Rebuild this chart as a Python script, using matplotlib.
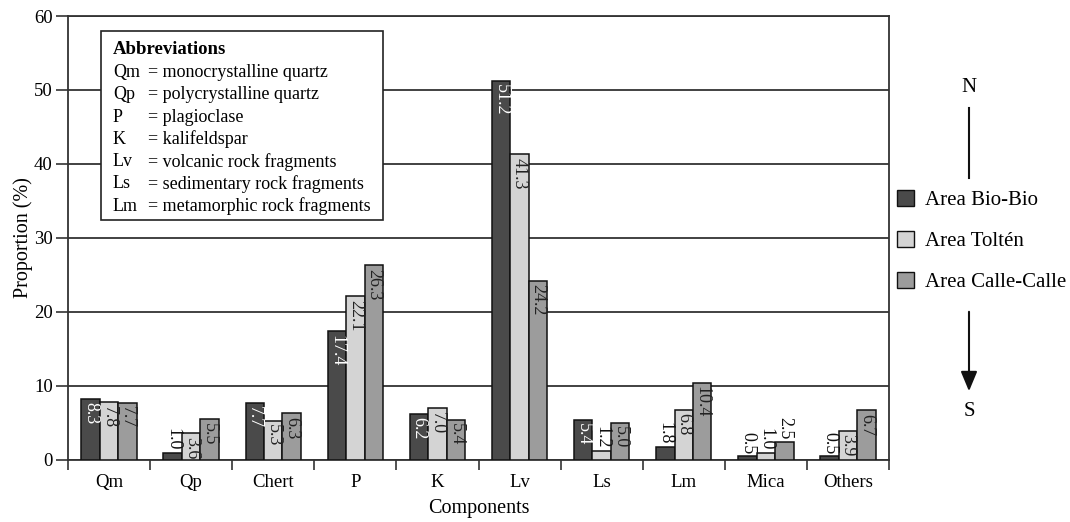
import numpy as np
import matplotlib
matplotlib.use("Agg")
import matplotlib.pyplot as plt
from matplotlib.patches import Patch, FancyArrowPatch
from matplotlib.lines import Line2D

categories = ["Qm", "Qp", "Chert", "P", "K", "Lv", "Ls", "Lm", "Mica", "Others"]
series_names = ["Area Bio-Bio", "Area Toltén", "Area Calle-Calle"]
bio_bio = [8.3, 1.0, 7.7, 17.4, 6.2, 51.2, 5.4, 1.8, 0.5, 0.5]
tolten = [7.8, 3.6, 5.3, 22.1, 7.0, 41.3, 1.2, 6.8, 1.0, 3.9]
calle_calle = [7.7, 5.5, 6.3, 26.3, 5.4, 24.2, 5.0, 10.4, 2.5, 6.7]
yticks = [0, 10, 20, 30, 40, 50, 60]
abbrevs = [("Qm", "monocrystalline quartz"), ("Qp", "polycrystalline quartz"),
           ("P", "plagioclase"), ("K", "kalifeldspar"),
           ("Lv", "volcanic rock fragments"), ("Ls", "sedimentary rock fragments"),
           ("Lm", "metamorphic rock fragments")]

colors = ["#4a4a4a", "#d4d4d4", "#9c9c9c"]
text_colors = ["white", "#222222", "#222222"]

plt.rcParams['font.family'] = ['Liberation Serif', 'DejaVu Serif']
W, H = 1070, 522
fig = plt.figure(figsize=(W / 100, H / 100), dpi=100)
ax = fig.add_axes([68 / W, 1 - 460 / H, (889 - 68) / W, (460 - 16) / H])

x = np.arange(len(categories))
bw = 0.225
data = [bio_bio, tolten, calle_calle]
for i, vals in enumerate(data):
    xs = x + (i - 1) * bw
    ax.bar(xs, vals, width=bw, color=colors[i], edgecolor="#111111", linewidth=1.1, zorder=3)
    for xx, v in zip(xs, vals):
        if v >= 3.5:
            ax.text(xx, v - 0.45, f"{v:.1f}", rotation=-90, ha="center", va="top",
                    color=text_colors[i], fontsize=13, zorder=4)
        else:
            ax.text(xx, v + 0.3, f"{v:.1f}", rotation=-90, ha="center", va="bottom",
                    color="#111111", fontsize=13, zorder=4)

ax.set_xlim(-0.5, len(categories) - 0.5)
ax.set_ylim(0, 60)
ax.set_yticks(yticks)
ax.yaxis.grid(True, color="#333333", linewidth=1.3, zorder=1)
ax.set_axisbelow(True)
ax.set_xticks(x)
ax.set_xticklabels(categories, fontsize=13.5)
ax.set_xticks(np.arange(-0.5, len(categories), 1.0), minor=True)
ax.tick_params(axis="x", which="major", length=0, pad=10)
ax.tick_params(axis="x", which="minor", length=7, width=1.2, color="#333333", direction="out")
ax.tick_params(axis="y", length=9, width=1.2, color="#333333", labelsize=13.5, pad=2)
for s in ax.spines.values():
    s.set_color("#333333")
    s.set_linewidth(1.3)
ax.set_ylabel("Proportion (%)", fontsize=14.5, labelpad=1)
ax.set_xlabel("Components", fontsize=14.5, labelpad=6)

# Abbreviation box
bx0, by0, bx1, by1 = 101, 31, 383, 220
box = plt.Rectangle((bx0 / W, 1 - by1 / H), (bx1 - bx0) / W, (by1 - by0) / H,
                    transform=fig.transFigure, facecolor="white", edgecolor="#222222",
                    linewidth=1.2, zorder=5)
fig.add_artist(box)
fig.text(113 / W, 1 - 50 / H, "Abbreviations", fontweight="bold", fontsize=13.5,
         va="center", ha="left", zorder=6)
for k, (ab, full) in enumerate(abbrevs):
    yy = 1 - (72.5 + 22.3 * k) / H
    fig.text(113 / W, yy, ab, fontsize=13, va="center", ha="left", zorder=6)
    fig.text(148 / W, yy, "= " + full, fontsize=13, va="center", ha="left", zorder=6)

# Legend
handles = [Patch(facecolor=c, edgecolor="#111111", linewidth=1.0) for c in colors]
fig.legend(handles, series_names, loc="center left", bbox_to_anchor=(897 / W, 1 - 241 / H),
           frameon=False, fontsize=15, handlelength=0.8, handleheight=0.8,
           labelspacing=1.0, handletextpad=0.55, borderpad=0, borderaxespad=0)

# N/S arrow
fig.text(969 / W, 1 - 88 / H, "N", fontsize=15, ha="center", va="center")
fig.text(969 / W, 1 - 412 / H, "S", fontsize=15, ha="center", va="center")
fig.add_artist(Line2D([969 / W, 969 / W], [1 - 108 / H, 1 - 178 / H],
                      transform=fig.transFigure, color="#111111", linewidth=1.5))
arr = FancyArrowPatch((969 / W, 1 - 309 / H), (969 / W, 1 - 394 / H),
                      transform=fig.transFigure, arrowstyle="-|>,head_length=6,head_width=2.5",
                      color="#111111", linewidth=1.5, mutation_scale=2.0)
fig.add_artist(arr)

fig.savefig("out.png", dpi=100)
